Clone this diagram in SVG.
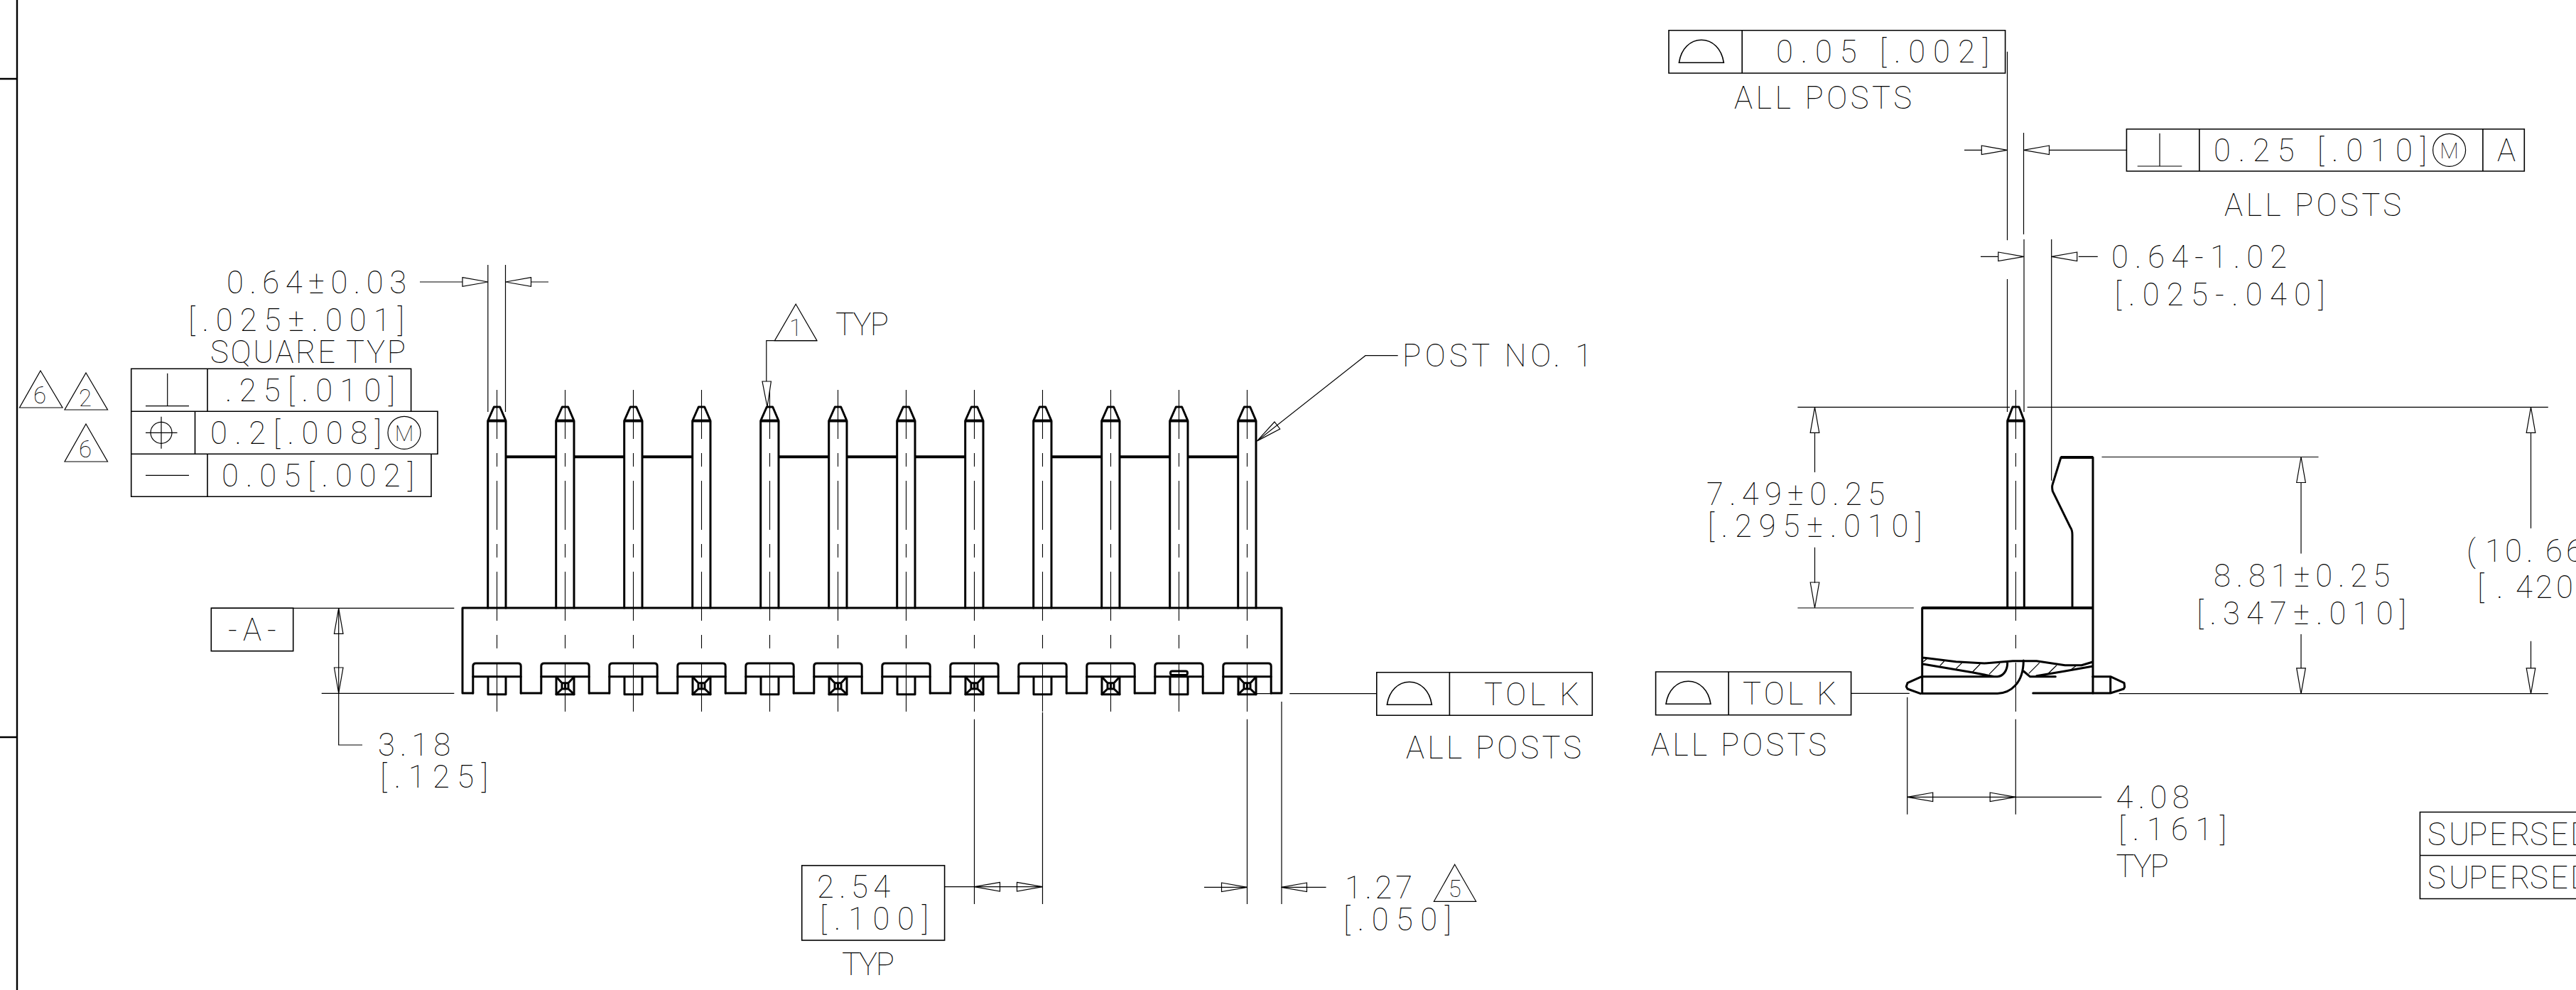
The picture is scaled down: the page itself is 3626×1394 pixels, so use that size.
<svg xmlns="http://www.w3.org/2000/svg" xmlns:xlink="http://www.w3.org/1999/xlink" width="3626" height="1394" viewBox="0 0 3626 1394">
<style>
text{font-family:Roboto,"Liberation Sans",sans-serif;font-weight:100;font-size:43.6px;fill:#000;opacity:.999}
.d{font-size:33px;text-anchor:middle}
.m{font-size:31px;text-anchor:middle}
.h{fill:none;stroke:#000;stroke-width:3;stroke-linejoin:round;stroke-linecap:round}
.b{fill:none;stroke:#000;stroke-width:4}
.n{fill:none;stroke:#000;stroke-width:1.2}
.f{fill:none;stroke:#000;stroke-width:1.6}
.c{stroke:#000;stroke-width:1.1;stroke-dasharray:69 20 19 20;fill:none}
</style>
<defs>
<path id="hR" class="n" d="M-36,-6.3L0,0L-36,6.3Z"/>
<path id="hL" class="n" d="M36,-6.3L0,0L36,6.3Z"/>
<path id="hU" class="n" d="M-6.3,36L0,0L6.3,36Z"/>
<path id="hD" class="n" d="M-6.3,-36L0,0L6.3,-36Z"/>
<g id="post">
<path class="h" d="M-12.8,856V592.5L-4.2,573H4.2L12.5,592.5V856"/>
<path class="b" d="M-12.8,592.5H12.5"/>
<path class="c" d="M0,549V1002"/>
<path class="h" d="M-33.7,976V938Q-33.7,934 -29.7,934H29.7Q33.7,934 33.7,938V976"/>
<path class="h" d="M-33.7,952.7H33.7M-12.5,952.7V977.7H12.5V952.7"/>
</g>
<g id="x"><path class="h" d="M-12.5,953L-4.5,961.7H4.5L12.5,953M-12.5,977.7L-4.5,970H4.5L12.5,977.7M-4.5,961.7V970M4.5,961.7V970M0,961.7V970"/></g>
<path id="dome" class="f" d="M0,0C3,-20 16,-32 31.5,-32C47,-32 60,-20 63,0Z"/>
</defs>
<rect width="3626" height="1394" fill="#fff"/>
<g id="frame"><path d="M24,0V1394M0,111H24M0,1038H24" fill="none" stroke="#000" stroke-width="2.4"/></g>

<g id="front-view">
<use href="#post" x="699.5"/><use href="#post" x="795.5"/><use href="#post" x="891.5"/><use href="#post" x="987.5"/><use href="#post" x="1083.5"/><use href="#post" x="1179.5"/><use href="#post" x="1275.5"/><use href="#post" x="1371.5"/><use href="#post" x="1467.5"/><use href="#post" x="1563.5"/><use href="#post" x="1659.5"/><use href="#post" x="1755.5"/>
<use href="#x" x="795.5"/><use href="#x" x="987.5"/><use href="#x" x="1179.5"/><use href="#x" x="1371.5"/><use href="#x" x="1563.5"/><use href="#x" x="1755.5"/>
<path class="h" d="M651,856H1804V976H1789.2M651,856V976H665.8M733.2,976H761.8M829.2,976H857.8M925.2,976H953.8M1021.2,976H1049.8M1117.2,976H1145.8M1213.2,976H1241.8M1309.2,976H1337.8M1405.2,976H1433.8M1501.2,976H1529.8M1597.2,976H1625.8M1693.2,976H1721.8"/>
<rect class="h" x="1647.5" y="945" width="24" height="5.5" rx="2.5"/>
<path class="b" d="M712,643.3H783M808,643.3H879M904,643.3H975M1096,643.3H1167M1192,643.3H1263M1288,643.3H1359M1480,643.3H1551M1576,643.3H1647M1672,643.3H1743"/>
</g>

<g id="side-view">
<path class="h" d="M2825.7,856V592.5L2833,573H2842L2849.3,592.5V856"/>
<path class="b" d="M2825.7,592.5H2849.3"/>
<path class="c" d="M2837.4,549V1002"/>
<path class="h" d="M2917,856V753C2917,745 2915,744 2913.8,741.7L2889.3,691.7C2888.5,688 2888.5,684 2889.3,681.7L2901,644H2946V976"/>
<path class="b" d="M2901,644H2946M2705.7,856H2946"/>
<path class="h" d="M2705.7,856V976.5H2811.7C2830,976 2848.3,962 2848.3,930M2706.7,926L2753.3,931.7L2793.3,934L2833.3,930.7H2866.7L2906.7,936.7H2930L2945,932.3M2706.7,935L2776,946.7L2806.7,952.7M2705,952.7H2811.7C2820,952 2825.7,944 2825.7,933.3M2848.3,945L2857.3,952.7H2893.3M2866.7,951.7L2906.7,945L2945,938.3M2861.7,976H2970.7M2705,952.7L2685,961.7L2683.3,966.7L2685,970L2703.3,976.7M2945.7,952.7H2970.7L2990,961.7L2990.7,967.3L2989.3,970L2970.7,976V952.7"/>
<path class="n" d="M2707.3,931.7L2712.7,927.3M2730.7,937.3L2736.7,931M2753.3,941.7L2761.7,933.3M2776.7,946L2787.3,935M2800,949.3L2815,934M2855.7,948.3L2870.7,933.3M2882.7,948.7L2895,936.7M2916,942.3L2921.7,938"/>
</g>

<g id="connectors" class="n">
<path class="n" d="M686.8,373V580M711.5,373V580M591,397H651M747,397H772"/>
<use href="#hR" x="687" y="397"/><use href="#hL" x="711.5" y="397"/>
<path class="n" d="M297,856.3H639.3M452.7,976.3H639.3M476.7,856.3V1049H510"/>
<use href="#hU" x="476.7" y="856.3"/><use href="#hD" x="476.7" y="976"/>
<path class="n" d="M1371.5,1012.7V1273M1467.5,1003V1273M1755.5,1012.7V1273M1804,988V1273M1329.6,1248.7H1467.5M1695,1249.3H1755.5M1803.5,1249.3H1866.6M1767.5,976.7H1789M1815.3,976.7H1937.8"/>
<use href="#hL" x="1371.5" y="1248.7"/><use href="#hR" x="1467.5" y="1248.7"/><use href="#hR" x="1755.5" y="1249.3"/><use href="#hL" x="1803.5" y="1249.3"/>
<path class="n" d="M1150,479.7H1078.8V537"/><path class="n" d="M1073,537H1085.4L1080,573Z"/>
<path class="n" d="M1967.7,500.7H1922L1769.5,621"/>
<path class="n" d="M1769.5,621L1794,594L1801.7,604Z"/>

<path class="n" d="M2825.5,72.7V338.3M2825.5,393V580M2848.5,187V330M2849,337V580M2887.7,337V676.7M2765,211.3H2789M2885,211.3H2993.4M2788,361.3H2812.5M2925.8,361.3H2952.8"/>
<use href="#hR" x="2825.3" y="211.3"/><use href="#hL" x="2848.5" y="211.3"/><use href="#hR" x="2848.8" y="361.3"/><use href="#hL" x="2887.7" y="361.3"/>
<path class="n" d="M2530.4,573.3H2829M2853.6,573.3H3586.8M2530.4,856H2693.8M2554.5,609V665M2554.5,770.7V820.7M2958.5,643.5H3263.5M2982.7,976.6H3586.8M3239,679.4V779.6M3239,893V941M3562.5,609.7V744M3562.5,902.7V941"/>
<use href="#hU" x="2554.5" y="573.3"/><use href="#hD" x="2554.5" y="856"/><use href="#hU" x="3239" y="643.5"/><use href="#hD" x="3239" y="976.8"/><use href="#hU" x="3562.5" y="573.3"/><use href="#hD" x="3562.5" y="976.8"/>
<path class="n" d="M2605.6,976.3H2687.8M2684.7,981.7V1146.7M2837.3,1012.7V1146.7M2684.7,1122.3H2958.2"/>
<use href="#hL" x="2684.7" y="1122.3"/><use href="#hR" x="2837.2" y="1122.3"/>
</g>

<g id="fcf-left">
<path class="f" d="M184.7,579.3V519.3H578.6V579.3M292,519.3V579.3M184.7,579.3H616V639.3H184.7ZM274.5,579.3V639.3M184.7,639.3V699.3H607V639.3M292,639.3V699.3"/>
<path class="n" d="M235.7,525.7V571.7M205,571.7H266M227,586.7V631.7M205,609.3H249.5M205,669.3H266"/>
<circle class="n" cx="227" cy="609.3" r="15"/>
<circle class="n" cx="569" cy="609.3" r="23"/>
<text x="317" y="565" textLength="239" lengthAdjust="spacing">.25[.010]</text>
<text x="296" y="625" textLength="241" lengthAdjust="spacing">0.2[.008]</text>
<text class="m" x="569" y="620.5">M</text>
<text x="312" y="685" textLength="271" lengthAdjust="spacing">0.05[.002]</text>
</g>
<g id="flags-left">
<path class="n" d="M57,522L88,574H27.5ZM121,525L151.5,577H91ZM121,597L151.5,650H91Z"/>
<text class="d" x="56" y="568">6</text><text class="d" x="120" y="572">2</text><text class="d" x="120" y="644">6</text>
</g>
<g id="labels-front">
<text x="319" y="413" textLength="253" lengthAdjust="spacing">0.64±0.03</text>
<text x="265" y="466" textLength="304" lengthAdjust="spacing">[.025±.001]</text>
<text x="296" y="511" textLength="275" lengthAdjust="spacing">SQUARE TYP</text>
<path class="n" d="M1120.2,428.3L1150,479.7H1090.4Z"/>
<text class="d" x="1120" y="473">1</text>
<text x="1176" y="472" textLength="75" lengthAdjust="spacing">TYP</text>
<text x="1974" y="516" textLength="267" lengthAdjust="spacing">POST NO. 1</text>
<text x="532" y="1064" textLength="102" lengthAdjust="spacing">3.18</text>
<text x="535" y="1109" textLength="152" lengthAdjust="spacing">[.125]</text>
</g>
<g id="datum-a">
<rect class="f" x="297.3" y="856.3" width="115.4" height="60.4"/>
<text x="321" y="902" textLength="68" lengthAdjust="spacing">-A-</text>
</g>
<g id="fcf-tol-front">
<path class="f" d="M1937.8,946.7H2241.3V1007.3H1937.8ZM2040.4,946.7V1007.3"/>
<use href="#dome" x="1952.4" y="992.3"/>
<text x="2089" y="992.7" textLength="134" lengthAdjust="spacing">TOL K</text>
<text x="1979" y="1067.7" textLength="247" lengthAdjust="spacing">ALL POSTS</text>
</g>
<g id="pitch">
<rect class="f" x="1128.7" y="1218.7" width="200.9" height="105.3"/>
<text x="1150" y="1264" textLength="103" lengthAdjust="spacing">2.54</text>
<text x="1154" y="1309" textLength="153" lengthAdjust="spacing">[.100]</text>
<text x="1185" y="1372.7" textLength="74" lengthAdjust="spacing">TYP</text>
<text x="1893" y="1265" textLength="95" lengthAdjust="spacing">1.27</text>
<text x="1891" y="1310" textLength="152" lengthAdjust="spacing">[.050]</text>
<path class="n" d="M2047.7,1217.3L2077.7,1269.3H2018.4Z"/>
<text class="d" x="2047.7" y="1263">5</text>
</g>
<g id="fcf-top">
<path class="f" d="M2349,42.7H2822.6V103H2349ZM2452.2,42.7V103"/>
<use href="#dome" x="2363.4" y="88.3"/>
<text x="2500" y="88.3" textLength="300" lengthAdjust="spacing">0.05 [.002]</text>
<text x="2441" y="152.7" textLength="250" lengthAdjust="spacing">ALL POSTS</text>
</g>
<g id="fcf-perp">
<path class="f" d="M2993.4,181.7H3553.3V241H2993.4ZM3095.8,181.7V241M3494.9,181.7V241"/>
<path class="n" d="M3040,187.7V234M3008.7,234H3071.3"/>
<circle class="n" cx="3447.6" cy="211.3" r="23"/>
<text x="3116" y="227.3" textLength="300" lengthAdjust="spacing">0.25 [.010]</text>
<text class="m" x="3447.6" y="222.5">M</text>
<text x="3515" y="227.3">A</text>
<text x="3131" y="304" textLength="249" lengthAdjust="spacing">ALL POSTS</text>
</g>
<g id="labels-side">
<text x="2972" y="377.3" textLength="247" lengthAdjust="spacing">0.64-1.02</text>
<text x="2976.5" y="430" textLength="296" lengthAdjust="spacing">[.025-.040]</text>
<text x="2402" y="711" textLength="251" lengthAdjust="spacing">7.49±0.25</text>
<text x="2403.6" y="756" textLength="302" lengthAdjust="spacing">[.295±.010]</text>
<text x="3116" y="826" textLength="248" lengthAdjust="spacing">8.81±0.25</text>
<text x="3092" y="878.8" textLength="295" lengthAdjust="spacing">[.347±.010]</text>
<text x="3472 3498 3526 3556 3583 3612" y="790.5">(10.66</text>
<text x="3487 3514 3541 3569 3598" y="842.3">[.420</text>
<text x="2978.6" y="1138.3" textLength="103" lengthAdjust="spacing">4.08</text>
<text x="2982" y="1183.3" textLength="152" lengthAdjust="spacing">[.161]</text>
<text x="2978.6" y="1235" textLength="74" lengthAdjust="spacing">TYP</text>
</g>
<g id="fcf-tol-side">
<path class="f" d="M2330.6,946H2605.6V1006.7H2330.6ZM2433.2,946V1006.7"/>
<use href="#dome" x="2345" y="991.3"/>
<text x="2453" y="991.7" textLength="132" lengthAdjust="spacing">TOL K</text>
<text x="2324" y="1064.3" textLength="247" lengthAdjust="spacing">ALL POSTS</text>
</g>
<g id="superseded">
<path class="f" d="M3626,1143.5H3406.4V1265.5H3626M3406.4,1204.5H3626"/>
<text x="3417 3447 3475 3504 3533 3561 3590 3618" y="1189.8">SUPERSED</text>
<text x="3417 3447 3475 3504 3533 3561 3590 3618" y="1250.8">SUPERSED</text>
</g>
</svg>
